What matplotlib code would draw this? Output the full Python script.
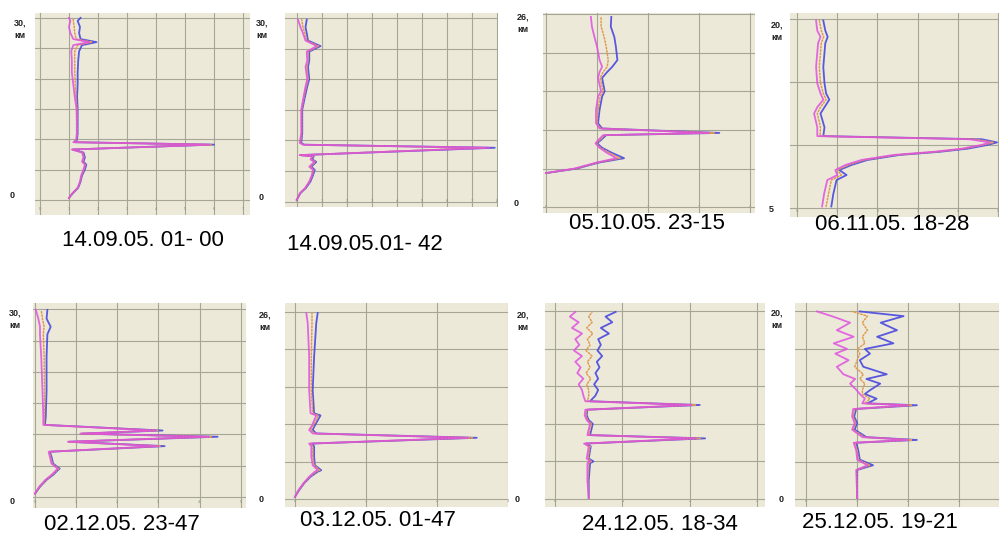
import matplotlib
matplotlib.use("Agg")
import matplotlib.pyplot as plt
import numpy as np

plt.rcParams['font.family'] = ['Liberation Sans', 'DejaVu Sans']

# altitude (km) and backscatter values (in grid units) for the eight lidar soundings
titles = ["14.09.05. 01- 00", "14.09.05.01- 42", "05.10.05. 23-15", "06.11.05. 18-28",
          "02.12.05. 23-47", "03.12.05. 01-47", "24.12.05. 18-34", "25.12.05. 19-21"]
top_labels = ["30,", "30,", "26,", "20,", "30,", "26,", "20,", "20,"]
bottom_labels = ["0", "0", "0", "5", "0", "0", "0", "0"]

alt1 = [0.3, 1.0, 2.0, 3.0, 4.0, 5.0, 5.8, 6.3, 7.0, 7.8, 8.3, 9.1, 9.5, 9.9, 11.0, 13.0, 15.0,
        17.0, 19.0, 21.0, 23.0, 24.5, 25.5, 26.0, 26.5, 27.5, 28.5, 29.5, 30.0]
mag1 = [1.0, 1.1, 1.3, 1.38, 1.42, 1.5, 1.55, 1.45, 1.5, 1.45, 1.1, 5.85, 1.15, 1.25, 1.27, 1.27, 1.26,
        1.2, 1.15, 1.1, 1.1, 1.08, 1.15, 1.7, 1.15, 1.05, 1.0, 1.05, 1.0]
blue1 = [1.0, 1.12, 1.32, 1.4, 1.45, 1.55, 1.6, 1.5, 1.55, 1.5, 1.12, 6.0, 1.2, 1.28, 1.3, 1.3, 1.3,
         1.28, 1.3, 1.3, 1.32, 1.35, 1.45, 1.95, 1.4, 1.35, 1.38, 1.3, 1.4]
org1 = [1.0, 1.11, 1.31, 1.39, 1.43, 1.52, 1.57, 1.47, 1.52, 1.47, 1.11, 5.9, 1.17, 1.26, 1.28, 1.28, 1.28,
        1.24, 1.22, 1.2, 1.2, 1.2, 1.3, 1.8, 1.25, 1.2, 1.18, 1.15, 1.15]

alt2 = [0.3, 1.4, 2.2, 3.3, 4.3, 5.2, 5.7, 6.5, 6.9, 7.4, 7.6, 8.8, 9.3, 9.6, 11.2, 15.0, 16.6, 18.8,
        20.0, 22.0, 23.0, 24.5, 25.4, 26.3, 27.5, 28.5, 29.7]
mag2 = [0.0, 0.13, 0.33, 0.5, 0.6, 0.65, 0.5, 0.7, 0.55, 0.62, 0.12, 7.7, 0.25, 0.12, 0.18, 0.18, 0.25, 0.35,
        0.42, 0.35, 0.42, 0.4, 0.8, 0.35, 0.25, 0.15, 0.05]
blue2 = [0.0, 0.15, 0.36, 0.55, 0.65, 0.72, 0.58, 0.78, 0.62, 0.68, 0.15, 7.92, 0.3, 0.18, 0.22, 0.22, 0.3, 0.42,
         0.5, 0.45, 0.5, 0.5, 0.95, 0.45, 0.4, 0.35, 0.4]
org2 = [0.0, 0.14, 0.34, 0.52, 0.62, 0.68, 0.54, 0.74, 0.58, 0.65, 0.13, 7.5, 0.27, 0.15, 0.2, 0.2, 0.27, 0.38,
        0.46, 0.4, 0.46, 0.45, 0.88, 0.4, 0.32, 0.25, 0.2]

alt3 = [4.6, 5.2, 5.7, 6.0, 6.6, 7.3, 8.0, 8.6, 9.0, 9.7, 10.0, 10.6, 11.3, 13.1, 14.9, 15.6, 17.4, 18.2,
        18.9, 19.8, 21.6, 22.9, 24.3, 25.6]
mag3 = [0.0, 0.55, 0.82, 0.98, 1.38, 1.2, 1.05, 0.97, 1.02, 1.12, 3.2, 1.05, 0.98, 0.98, 1.02, 1.08, 1.02, 1.05,
        1.1, 1.05, 1.0, 0.95, 0.9, 0.88]
blue3 = [0.0, 0.6, 0.87, 1.03, 1.53, 1.3, 1.1, 1.0, 1.07, 1.18, 3.4, 1.1, 1.02, 1.05, 1.1, 1.15, 1.1, 1.2,
         1.3, 1.4, 1.37, 1.34, 1.27, 1.28]
org3 = [0.0, 0.58, 0.85, 1.0, 1.45, 1.25, 1.07, 0.98, 1.05, 1.15, 3.3, 1.07, 1.0, 1.02, 1.06, 1.12, 1.06, 1.12,
        1.2, 1.22, 1.18, 1.14, 1.08, 1.08]

alt4 = [5.1, 6.1, 7.2, 7.6, 8.0, 8.4, 8.8, 9.2, 9.45, 9.7, 10.0, 10.2, 10.45, 10.7, 11.4, 12.5, 13.0, 13.6,
        14.1, 14.9, 16.2, 18.1, 18.6, 19.1, 19.9]
mag4 = [0.62, 0.67, 0.75, 1.0, 0.95, 1.2, 1.6, 2.4, 3.4, 4.1, 4.6, 4.8, 4.3, 0.5, 0.5, 0.42, 0.5, 0.65,
        0.58, 0.5, 0.47, 0.52, 0.58, 0.5, 0.47]
blue4 = [0.85, 0.9, 0.98, 1.23, 1.05, 1.35, 1.75, 2.55, 3.55, 4.25, 4.75, 4.98, 4.6, 0.65, 0.68, 0.58, 0.68, 0.8,
         0.72, 0.68, 0.65, 0.7, 0.76, 0.7, 0.65]
org4 = [0.72, 0.78, 0.85, 1.1, 1.0, 1.27, 1.67, 2.47, 3.47, 4.15, 4.65, 4.9, 4.45, 0.57, 0.58, 0.5, 0.58, 0.72,
        0.65, 0.58, 0.55, 0.6, 0.66, 0.6, 0.55]

alt5 = [0.5, 1.6, 2.7, 3.5, 4.3, 4.5, 5.3, 6.4, 7.2, 8.1, 8.8, 9.6, 10.1, 10.6, 11.5, 12.8, 17.0, 22.4,
        26.0, 27.2, 28.5, 29.9]
mag5 = [0.0, 0.1, 0.25, 0.4, 0.52, 0.55, 0.4, 0.36, 0.33, 3.0, 0.8, 4.23, 1.1, 2.94, 0.2, 0.2, 0.18, 0.15,
        0.12, 0.12, 0.08, 0.02]
blue5 = [0.0, 0.12, 0.28, 0.44, 0.56, 0.6, 0.44, 0.4, 0.36, 3.15, 0.82, 4.44, 1.13, 3.1, 0.24, 0.26, 0.28, 0.28,
         0.3, 0.38, 0.28, 0.3]
org5 = [0.0, 0.11, 0.27, 0.42, 0.54, 0.58, 0.42, 0.38, 0.35, 3.05, 0.81, 4.3, 1.12, 3.0, 0.22, 0.23, 0.23, 0.22,
        0.2, 0.22, 0.18, 0.15]

alt6 = [0.3, 1.25, 2.2, 3.1, 3.8, 4.0, 4.7, 5.9, 7.3, 7.7, 8.5, 9.1, 9.6, 10.2, 11.6, 11.9, 15.1, 19.8, 24.4, 25.8]
mag6 = [0.0, 0.05, 0.12, 0.2, 0.28, 0.32, 0.25, 0.23, 0.23, 0.2, 2.44, 0.25, 0.2, 0.24, 0.3, 0.22, 0.2, 0.2, 0.18, 0.16]
blue6 = [0.0, 0.06, 0.13, 0.22, 0.32, 0.37, 0.28, 0.27, 0.27, 0.24, 2.56, 0.3, 0.25, 0.28, 0.36, 0.27, 0.25, 0.27, 0.3, 0.32]
org6 = [0.0, 0.055, 0.125, 0.21, 0.3, 0.35, 0.27, 0.25, 0.25, 0.22, 2.5, 0.28, 0.22, 0.26, 0.33, 0.25, 0.23, 0.23, 0.24, 0.24]

alt7 = [0.1, 2.0, 3.8, 4.0, 4.3, 5.6, 5.9, 6.45, 6.8, 7.4, 8.0, 8.4, 8.9, 9.5, 10.0, 10.4, 11.0, 11.6,
        12.2, 12.8, 13.4, 14.0, 14.6, 15.2, 15.8, 16.4, 17.0, 17.6, 18.2, 18.8, 19.4, 19.9]
mag7 = [0.5, 0.48, 0.48, 0.52, 0.47, 0.5, 0.43, 2.1, 0.48, 0.5, 0.52, 0.47, 0.44, 0.45, 2.03, 0.45, 0.42, 0.4,
        0.35, 0.42, 0.33, 0.38, 0.3, 0.4, 0.28, 0.36, 0.3, 0.4, 0.25, 0.35, 0.22, 0.3]
blue7 = [0.5, 0.5, 0.52, 0.57, 0.5, 0.53, 0.46, 2.23, 0.52, 0.54, 0.56, 0.5, 0.47, 0.48, 2.15, 0.52, 0.6, 0.64,
         0.58, 0.64, 0.6, 0.66, 0.62, 0.7, 0.63, 0.68, 0.64, 0.8, 0.68, 0.85, 0.75, 0.9]
org7 = [0.5, 0.49, 0.5, 0.54, 0.49, 0.52, 0.45, 2.16, 0.5, 0.52, 0.54, 0.48, 0.46, 0.47, 2.09, 0.48, 0.5, 0.5,
        0.47, 0.53, 0.46, 0.52, 0.48, 0.55, 0.46, 0.52, 0.48, 0.56, 0.47, 0.55, 0.5, 0.55]

alt8 = [0.1, 3.1, 3.6, 4.2, 5.2, 6.0, 6.3, 6.6, 7.4, 8.1, 8.8, 9.6, 10.0, 10.2, 10.7, 11.2, 11.6, 12.3,
        12.8, 13.3, 14.1, 14.8, 15.5, 16.0, 16.6, 17.3, 18.0, 18.8, 19.5, 20.0]
blue8 = [1.0, 1.0, 1.31, 1.05, 1.02, 0.98, 2.17, 1.18, 0.95, 1.0, 0.94, 0.98, 2.17, 1.2, 1.38, 1.15, 1.25, 1.45,
         1.18, 1.58, 1.12, 1.05, 1.25, 1.15, 1.71, 1.39, 1.78, 1.46, 1.91, 1.05]
mag8 = [1.0, 0.98, 1.2, 1.0, 0.98, 0.93, 2.0, 1.1, 0.9, 0.95, 0.9, 0.92, 2.0, 1.1, 1.15, 1.05, 0.99, 0.86,
        0.96, 0.73, 0.6, 0.83, 0.57, 0.8, 0.54, 0.93, 0.6, 0.86, 0.5, 0.21]
org8 = [1.0, 0.99, 1.25, 1.02, 1.0, 0.95, 2.08, 1.14, 0.92, 0.97, 0.92, 0.95, 2.08, 1.15, 1.25, 1.1, 1.1, 1.15,
        1.05, 1.12, 0.95, 1.0, 1.05, 1.0, 1.15, 1.1, 1.2, 1.1, 1.2, 0.9]

alts = [alt1, alt2, alt3, alt4, alt5, alt6, alt7, alt8]
blues = [blue1, blue2, blue3, blue4, blue5, blue6, blue7, blue8]
oranges = [org1, org2, org3, org4, org5, org6, org7, org8]
mags = [mag1, mag2, mag3, mag4, mag5, mag6, mag7, mag8]

# panel layout, pixel boxes (x0, y0, x1, y1) and axis settings
W, H = 999, 537
boxes = [(35, 13, 250, 215), (285, 13, 498, 207), (543, 13, 755, 213), (790, 13, 999, 217),
         (33, 303, 246, 508), (285, 303, 508, 507), (545, 303, 765, 507), (795, 303, 999, 507)]
xlims = [(-0.17, 7.24), (-0.47, 8.05), (-0.06, 4.1), (-0.18, 5.03),
         (-0.05, 5.13), (-0.14, 3.0), (-0.15, 3.12), (-0.22, 3.78)]
ylims = [(-2.5, 30.8), (-0.87, 30.8), (-0.77, 26.13), (4.26, 20.5),
         (-1.8, 31.0), (-1.1, 27.2), (-0.85, 20.85), (-0.85, 20.9)]
xgrids = [8, 9, 5, 6, 6, 4, 4, 4]
ygrids = [np.arange(0, 31, 5), np.arange(0, 31, 5), np.linspace(0, 26, 6), np.arange(5, 21, 5),
          np.arange(0, 31, 5), np.linspace(0, 26, 6), np.arange(0, 21, 4), np.arange(0, 21, 4)]
title_pos = [(143, 240), (365, 244), (647, 223), (892, 225), (122, 525), (378, 520), (660, 525), (880, 522)]
label_pos = [(20, 23, 12, 195), (262, 23, 261, 197), (523, 17, 516, 203), (777, 25, 771, 210),
             (15, 313, 12, 502), (265, 315, 261, 500), (523, 315, 517, 500), (777, 313, 781, 500)]

fig = plt.figure(figsize=(W / 100, H / 100), dpi=100)
fig.patch.set_facecolor('white')

for i in range(8):
    x0, y0, x1, y1 = boxes[i]
    ax = fig.add_axes([x0 / W, 1 - y1 / H, (x1 - x0) / W, (y1 - y0) / H])
    ax.set_facecolor('#ece9d8')
    for s in ax.spines.values():
        s.set_visible(False)
    ax.set_xlim(*xlims[i])
    ax.set_ylim(*ylims[i])
    ax.set_xticks(np.arange(xgrids[i]))
    ax.set_yticks(ygrids[i])
    ax.grid(True, color='#a6a696', linewidth=0.8)
    ax.set_axisbelow(True)
    ax.tick_params(length=0, labelsize=3, colors='#8a8a80', pad=-6)
    ax.set_yticklabels([])

    ax.plot(blues[i], alts[i], color='#4848e0', lw=1.3, alpha=0.9)
    ax.plot(oranges[i], alts[i], color='#e09a50', lw=1.1, linestyle=(0, (1, 1.2)),
            dash_capstyle='round')
    ax.plot(mags[i], alts[i], color='#e050e0', lw=1.3, alpha=0.85)

    tx, ty = title_pos[i]
    fig.text(tx / W, 1 - ty / H, titles[i], ha='center', va='center', fontsize=16, color='black')
    lx, ly, bx, by = label_pos[i]
    fig.text(lx / W, 1 - ly / H, top_labels[i], ha='center', va='center', fontsize=6.5,
             fontweight='bold', color='#222222')
    fig.text(lx / W, 1 - (ly + 12) / H, "км", ha='center', va='center', fontsize=6.5,
             fontweight='bold', color='#222222')
    fig.text(bx / W, 1 - by / H, bottom_labels[i], ha='center', va='center', fontsize=6.5,
             fontweight='bold', color='#222222')

fig.savefig('out.png', dpi=100)
